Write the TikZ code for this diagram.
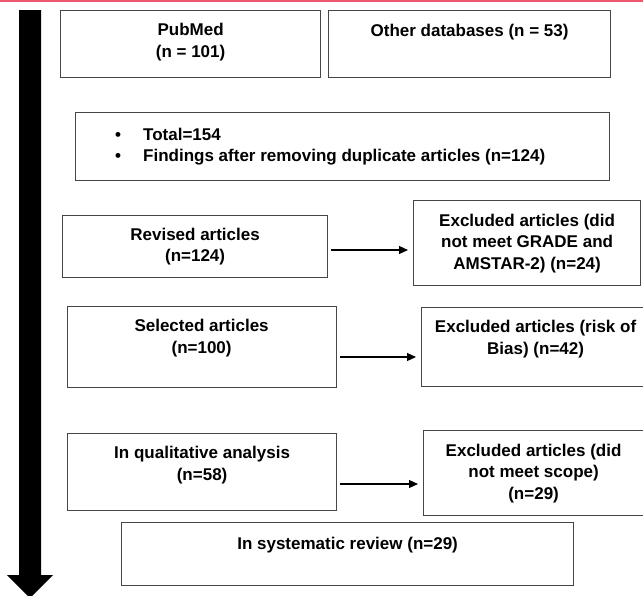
\documentclass[tikz,border=0pt]{standalone}
\usepackage{fontspec}
\setmainfont{Liberation Sans}
\usepackage{tikz}
\usetikzlibrary{arrows.meta, positioning, calc}
\definecolor{edgered}{RGB}{238, 88, 108}
\definecolor{boxline}{RGB}{70, 70, 70}

\begin{document}
\begin{tikzpicture}[x=1pt, y=-1pt,
    box/.style={draw=boxline, line width=1.2pt, inner sep=0pt, anchor=north west},
    txt/.style={font=\bfseries\fontsize{17}{21.5}\selectfont, align=center, inner sep=0pt},
    flow/.style={-{Triangle[length=9pt, width=8pt]}, line width=1.1pt, shorten <=3pt, shorten >=5pt}]
  \useasboundingbox (0,0) rectangle (643,595);
  \fill[edgered] (0,0) rectangle (643,2);

  % timeline arrow
  \fill (19,10) -- (41,10) -- (41,575) -- (53,575) -- (30,598) -- (7,575) -- (19,575) -- cycle;

  % boxes
  \node[box, minimum width=260, minimum height=67] (pubmed) at (60,10) {};
  \node[box, minimum width=282, minimum height=67] (otherdb) at (328,10) {};
  \node[box, minimum width=534, minimum height=68] (total) at (75,112) {};
  \node[box, minimum width=265, minimum height=62] (revised) at (62,215) {};
  \node[box, minimum width=227, minimum height=85] (exclA) at (413,200) {};
  \node[box, minimum width=269, minimum height=81] (selected) at (67,306) {};
  \node[box, minimum width=222, minimum height=79] (exclB) at (421,307) {};
  \node[box, minimum width=269, minimum height=77] (qualit) at (67,433) {};
  \node[box, minimum width=220, minimum height=85] (exclC) at (423,430) {};
  \node[box, minimum width=452, minimum height=63] (review) at (121,522) {};

  % labels
  \node[txt] (pubmedtxt) at ([yshift=-32]pubmed.north) {PubMed\\(n = 101)};
  \node[txt] (otherdbtxt) at ([yshift=-22]otherdb.north) {Other databases (n = 53)};
  \node[txt, align=left, anchor=west] (totaltxt) at ([xshift=40]total.west)
    {\makebox[28pt][l]{\textbullet}Total=154\\
     \makebox[28pt][l]{\textbullet}Findings after removing duplicate articles (n=124)};
  \node[txt] (revisedtxt) at (revised.center) {Revised articles\\(n=124)};
  \node[txt] (exclAtxt) at (exclA.center) {Excluded articles (did\\not meet GRADE and\\AMSTAR-2) (n=24)};
  \node[txt] (selectedtxt) at ([xshift=-0.5, yshift=-32]selected.north) {Selected articles\\(n=100)};
  \node[txt] (exclBtxt) at ([xshift=3, yshift=-32]exclB.north) {Excluded articles (risk of\\Bias) (n=42)};
  \node[txt] (qualittxt) at ([yshift=-32]qualit.north) {In qualitative analysis\\(n=58)};
  \node[txt] (exclCtxt) at (exclC.center) {Excluded articles (did\\not meet scope)\\(n=29)};
  \node[txt] (reviewtxt) at ([yshift=-23]review.north) {In systematic review (n=29)};

  % exclusions
  \draw[flow] (revised.east |- 0,250) -- (exclA.west |- 0,250);
  \draw[flow] (selected.east |- 0,357) -- (exclB.west |- 0,357);
  \draw[flow] (qualit.east |- 0,484) -- (exclC.west |- 0,484);
\end{tikzpicture}
\end{document}
